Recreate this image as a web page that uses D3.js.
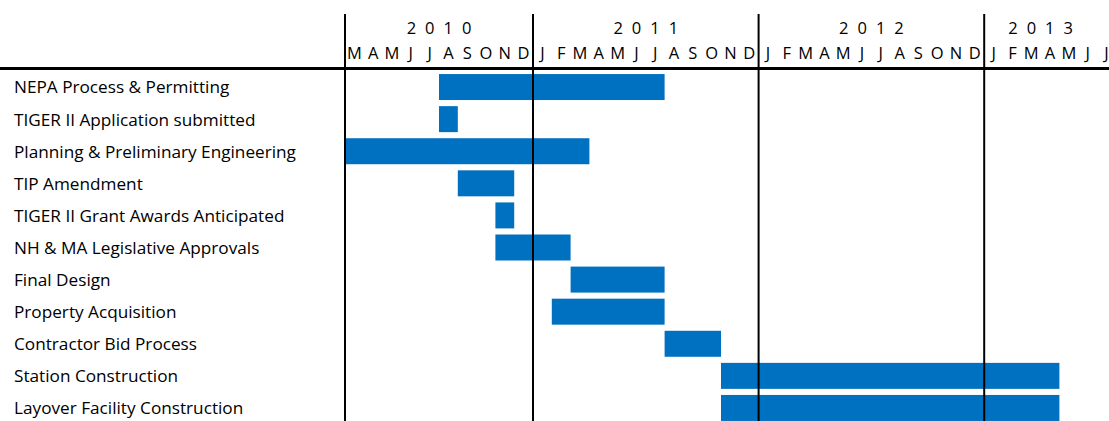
<!DOCTYPE html>
<html lang="en">
<head>
    <meta charset="UTF-8" />
    <title>Project Schedule Gantt</title>
    <script src="https://d3js.org/d3.v7.min.js"></script>
    <style>
        body { margin: 0; background: #fff; }
        text { font-family: "Open Sans", sans-serif; fill: #000; }
    </style>
</head>
<body>
    <script>
        var w = 1109;
        var h = 421;

        // Data
        var years = ["2010", "2011", "2012", "2013"];
        var monthLetters = ["J", "F", "M", "A", "M", "J", "J", "A", "S", "O", "N", "D"];
        var firstMonth = "2010-03";
        var lastMonth = "2013-07";

        var tasks = [
            "NEPA Process & Permitting",
            "TIGER II Application submitted",
            "Planning & Preliminary Engineering",
            "TIP Amendment",
            "TIGER II Grant Awards Anticipated",
            "NH & MA Legislative Approvals",
            "Final Design",
            "Property Acquisition",
            "Contractor Bid Process",
            "Station Construction",
            "Layover Facility Construction"
        ];
        var taskStart = ["2010-08", "2010-08", "2010-03", "2010-09", "2010-11", "2010-11",
                         "2011-03", "2011-02", "2011-08", "2011-11", "2011-11"];
        var taskEnd = ["2011-07", "2010-08", "2011-03", "2010-11", "2010-11", "2011-02",
                       "2011-07", "2011-07", "2011-10", "2013-04", "2013-04"];

        // month keys for the band scale
        var parseMonth = d3.timeParse("%Y-%m");
        var fmtMonth = d3.timeFormat("%Y-%m");
        var monthDates = d3.timeMonth.range(parseMonth(firstMonth), d3.timeMonth.offset(parseMonth(lastMonth), 1));
        var monthKeys = monthDates.map(fmtMonth);

        var left = 345;
        var colW = 18.8;

        var svg = d3.select("body")
            .append("svg")
            .attr("width", w)
            .attr("height", h);

        // Scales
        var xScale = d3.scaleBand()
            .domain(monthKeys)
            .range([left, left + monthKeys.length * colW])
            .padding(0);

        var yScale = d3.scaleBand()
            .domain(tasks)
            .range([71, 424])
            .paddingInner(0.19)
            .paddingOuter(0.095);

        // Bars
        svg.selectAll("rect.bar")
            .data(tasks)
            .enter()
            .append("rect")
            .attr("class", "bar")
            .attr("x", function(d, i) { return xScale(taskStart[i]); })
            .attr("y", function(d) { return yScale(d); })
            .attr("width", function(d, i) {
                return xScale(taskEnd[i]) + xScale.bandwidth() - xScale(taskStart[i]);
            })
            .attr("height", yScale.bandwidth())
            .attr("fill", "#0070C0");

        // Task labels
        svg.selectAll("text.task")
            .data(tasks)
            .enter()
            .append("text")
            .attr("class", "task")
            .attr("x", 14)
            .attr("y", function(d) { return yScale(d) + yScale.bandwidth() / 2; })
            .attr("dy", "0.37em")
            .attr("font-size", 17.2)
            .text(function(d) { return d; });

        // Month letters
        svg.selectAll("text.month")
            .data(monthDates)
            .enter()
            .append("text")
            .attr("class", "month")
            .attr("x", function(d) { return xScale(fmtMonth(d)) + xScale.bandwidth() / 2; })
            .attr("y", 53)
            .attr("dy", "0.35em")
            .attr("text-anchor", "middle")
            .attr("font-size", 16.5)
            .text(function(d) { return monthLetters[d.getMonth()]; });

        // Year labels, centred over the months shown in full
        svg.selectAll("text.year")
            .data(years)
            .enter()
            .append("text")
            .attr("class", "year")
            .attr("x", function(y) {
                var keys = monthKeys.filter(function(k) {
                    return k.slice(0, 4) === y && xScale(k) + xScale.bandwidth() <= w;
                });
                var x0 = xScale(keys[0]);
                var x1 = xScale(keys[keys.length - 1]) + xScale.bandwidth();
                return (x0 + x1) / 2 + 4.5;
            })
            .attr("y", 28)
            .attr("dy", "0.35em")
            .attr("text-anchor", "middle")
            .attr("font-size", 16.5)
            .attr("letter-spacing", 9)
            .text(function(d) { return d; });

        // Grid lines: left edge and year boundaries
        var yearStarts = [monthKeys[0]].concat(years.slice(1).map(function(y) { return y + "-01"; }));
        svg.selectAll("line.year")
            .data(yearStarts)
            .enter()
            .append("line")
            .attr("class", "year")
            .attr("x1", function(d) { return xScale(d); })
            .attr("x2", function(d) { return xScale(d); })
            .attr("y1", 14)
            .attr("y2", h)
            .attr("stroke", "#000")
            .attr("stroke-width", 2);

        // header rule
        svg.append("line")
            .attr("x1", 0)
            .attr("x2", w)
            .attr("y1", 68.5)
            .attr("y2", 68.5)
            .attr("stroke", "#000")
            .attr("stroke-width", 3);
    </script>
</body>
</html>
